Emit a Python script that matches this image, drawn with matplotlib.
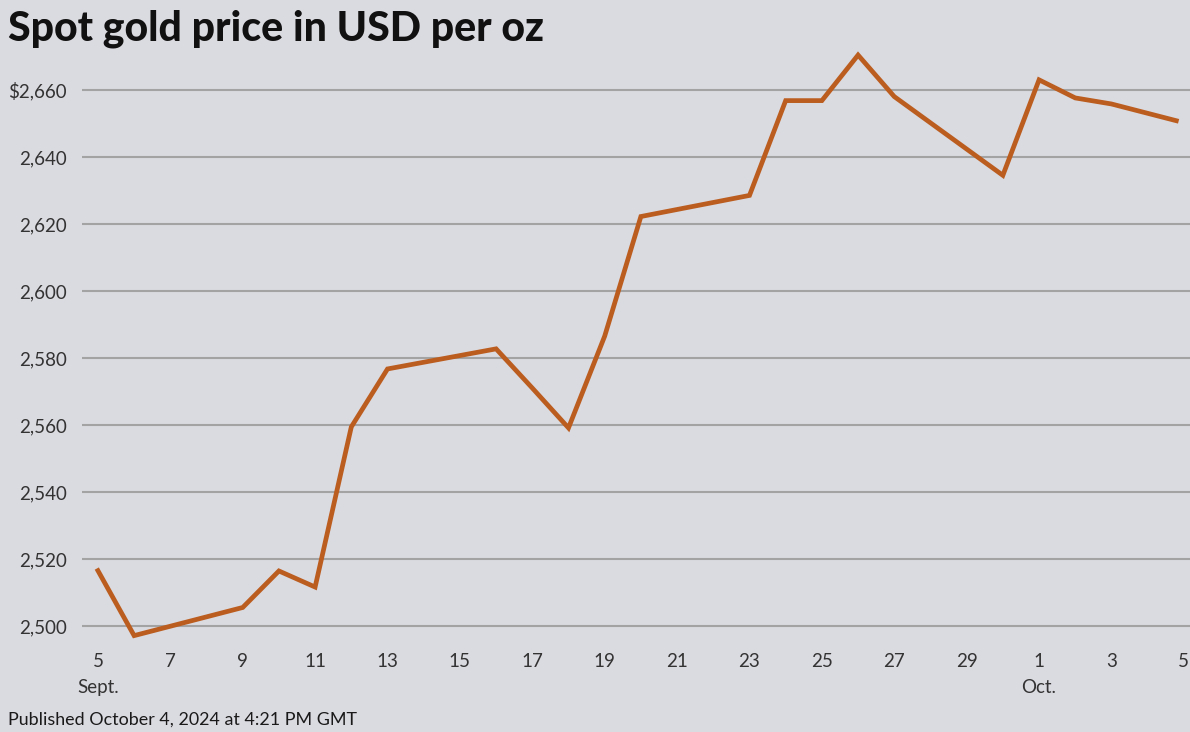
import matplotlib
matplotlib.use("Agg")
import matplotlib.pyplot as plt
import matplotlib.dates as mdates
import pandas as pd

dates = ["2024-09-05 00:00", "2024-09-06 00:00", "2024-09-09 00:00", "2024-09-10 00:00", "2024-09-11 00:00",
         "2024-09-12 00:00", "2024-09-13 00:00", "2024-09-16 00:00", "2024-09-17 00:00", "2024-09-18 00:00",
         "2024-09-19 00:00", "2024-09-20 00:00", "2024-09-23 00:00", "2024-09-24 00:00", "2024-09-25 00:00",
         "2024-09-26 00:00", "2024-09-27 00:00", "2024-09-30 00:00", "2024-10-01 00:00", "2024-10-02 00:00",
         "2024-10-03 00:00", "2024-10-04 19:00"]
prices = [2516.5, 2497.1, 2505.5, 2516.4, 2511.6,
          2559.4, 2576.7, 2582.7, 2571.0, 2559.1,
          2586.5, 2622.2, 2628.5, 2656.8, 2656.8,
          2670.4, 2658.0, 2634.5, 2663.0, 2657.6,
          2655.8, 2650.8]
yticks = [2500, 2520, 2540, 2560, 2580, 2600, 2620, 2640, 2660]
ytick_labels = ["2,500", "2,520", "2,540", "2,560", "2,580", "2,600", "2,620", "2,640", "$2,660"]
xtick_dates = ["2024-09-05", "2024-09-07", "2024-09-09", "2024-09-11", "2024-09-13",
               "2024-09-15", "2024-09-17", "2024-09-19", "2024-09-21", "2024-09-23",
               "2024-09-25", "2024-09-27", "2024-09-29", "2024-10-01", "2024-10-03",
               "2024-10-05"]
xtick_labels = ["5\nSept.", "7", "9", "11", "13", "15", "17", "19", "21", "23",
                "25", "27", "29", "1\nOct.", "3", "5"]
title = "Spot gold price in USD per oz"
footer = "Published October 4, 2024 at 4:21 PM GMT"

BG = "#dadae1"
LINE = "#bb5d1e"
GRID = "#a3a3a3"
TXT = "#333333"

W, H = 1190, 732
fig = plt.figure(figsize=(W / 100, H / 100), dpi=100, facecolor=BG)
left, right, top, bottom = 82, 1190, 45, 645
ax = fig.add_axes([left / W, 1 - bottom / H, (right - left) / W, (bottom - top) / H])
ax.set_facecolor(BG)

x = pd.to_datetime(dates, format="%Y-%m-%d %H:%M")
ax.plot(x, prices, color=LINE, lw=3.4, solid_joinstyle="miter", zorder=3)

ax.set_ylim(2494.3, 2673.4)
x0 = pd.Timestamp("2024-09-05")
ax.set_xlim(mdates.date2num(x0) - 0.44, mdates.date2num(x0) + 30.17)

ax.set_yticks(yticks)
ax.set_yticklabels(ytick_labels)
ax.set_xticks(pd.to_datetime(xtick_dates, format="%Y-%m-%d"))
ax.set_xticklabels(xtick_labels, linespacing=1.6, va="top")
ax.tick_params(axis="both", length=0, labelsize=13.5, labelcolor=TXT)
ax.tick_params(axis="y", pad=11)
ax.tick_params(axis="x", pad=6)
for lab in ax.get_xticklabels() + ax.get_yticklabels():
    lab.set_fontfamily("Lato")

ax.grid(axis="y", color=GRID, lw=1.5)
ax.grid(axis="x", visible=False)
for s in ax.spines.values():
    s.set_visible(False)
ax.set_axisbelow(True)

fig.text(8 / W, 1 - 29 / H, title, fontsize=29.5, fontweight="black", family="Lato",
         color="#111111", va="center", ha="left")
fig.text(8 / W, 1 - 720 / H, footer, fontsize=12.9, family="Lato",
         color="#1a1a1a", va="center", ha="left")

fig.savefig("out.png", dpi=100, facecolor=BG)
